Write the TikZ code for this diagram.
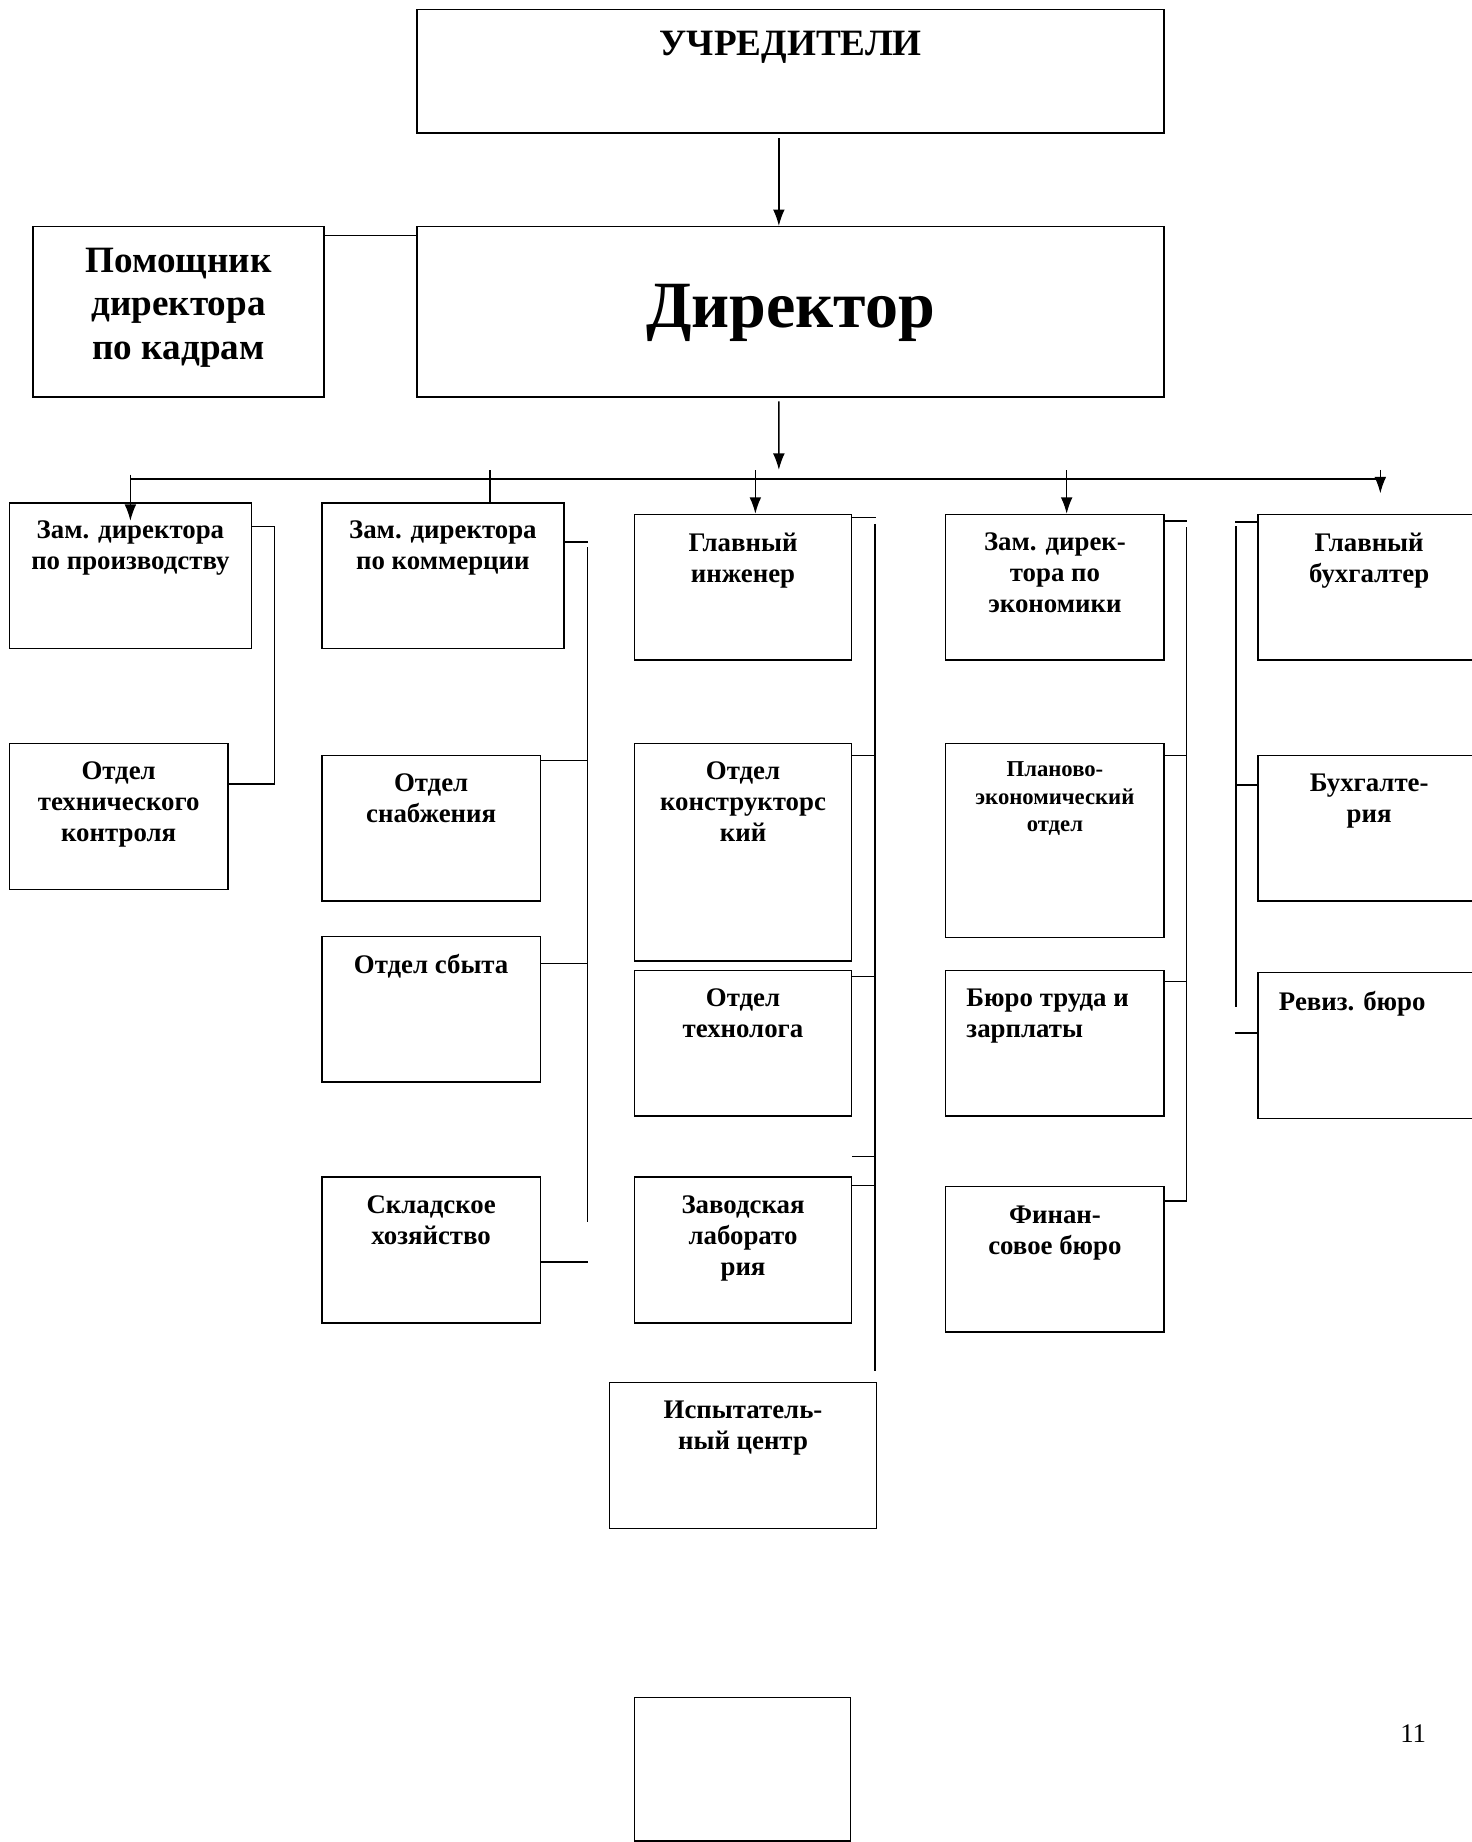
\documentclass[tikz,border=0pt]{standalone}
\usepackage{fontspec}
\setmainfont{Liberation Serif}
\usetikzlibrary{positioning,arrows.meta}

\tikzset{
	blk/.style={shape=rectangle,draw=black,line width=0.75pt,inner sep=0pt},
	txt/.style={inner sep=0pt,align=center,font=\fontsize{13}{15}\selectfont\bfseries},
	ln/.style={draw=black,line width=0.7pt},
	arr/.style={ln,-{Latex[length=2.8mm,width=2mm]}}
}

\begin{document}
\begin{tikzpicture}[x=0.2mm,y=-0.2mm]
	
	\useasboundingbox (0,0) rectangle (1253,1568);
	
	\node[blk,minimum width=127.2mm,minimum height=21mm] (uch) at (673,60.5) {};
	\node[blk,minimum width=127.2mm,minimum height=29mm] (dir) at (673,265.5) {};
	\node[blk,minimum width=49.6mm,minimum height=29mm] (pom) at (152,265.5) {};
	
	\node[blk,minimum width=41.2mm,minimum height=24.8mm] (zpr) at (111,490) {};
	\node[blk,minimum width=41.2mm,minimum height=24.8mm] (zkom) at (377,490) {};
	\node[blk,minimum width=37mm,minimum height=24.8mm] (gi) at (632.5,500) {};
	\node[blk,minimum width=37.2mm,minimum height=24.8mm] (zek) at (898,500) {};
	\node[blk,minimum width=37.8mm,minimum height=24.8mm] (gb) at (1165.5,500) {};
	
	\node[blk,minimum width=37.2mm,minimum height=24.8mm] (otk) at (101,695) {};
	\node[blk,minimum width=37.2mm,minimum height=24.8mm] (snab) at (367,705) {};
	\node[blk,minimum width=37.2mm,minimum height=24.8mm] (sbyt) at (367,859) {};
	\node[blk,minimum width=37.2mm,minimum height=24.8mm] (sklad) at (367,1064) {};
	\node[blk,minimum width=37mm,minimum height=37mm] (konstr) at (632.5,725.5) {};
	\node[blk,minimum width=37mm,minimum height=24.8mm] (tehn) at (632.5,888) {};
	\node[blk,minimum width=37mm,minimum height=24.8mm] (lab) at (632.5,1064) {};
	\node[blk,minimum width=45.4mm,minimum height=24.8mm] (isp) at (632.5,1239) {};
	\node[blk,minimum width=37.2mm,minimum height=33mm] (plan) at (898,715.5) {};
	\node[blk,minimum width=37.2mm,minimum height=24.8mm] (byuro) at (898,888) {};
	\node[blk,minimum width=37.2mm,minimum height=24.8mm] (fin) at (898,1072) {};
	\node[blk,minimum width=37.8mm,minimum height=24.8mm] (buh) at (1165.5,705) {};
	\node[blk,minimum width=37.8mm,minimum height=24.8mm] (rev) at (1165.5,890) {};
	\node[blk,minimum width=36.8mm,minimum height=24.4mm] (emp) at (632,1506) {};
	
	\node[txt,font=\fontsize{18}{21}\selectfont\bfseries,below=3.7mm of uch.north] (uchT) {УЧРЕДИТЕЛИ};
	\node[txt,font=\fontsize{32}{36}\selectfont\bfseries,below=9.9mm of dir.north] (dirT) {Директор};
	\node[txt,font=\fontsize{18}{21}\selectfont\bfseries,below=3.7mm of pom.north] (pomT) {Помощник\\директора\\по кадрам};
	\node[txt,below=3.2mm of zpr.north] (zprT) {Зам. директора\\по производству};
	\node[txt,below=3.2mm of zkom.north] (zkomT) {Зам. директора\\по коммерции};
	\node[txt,below=3.2mm of gi.north] (giT) {Главный\\инженер};
	\node[txt,below=3.2mm of zek.north] (zekT) {Зам. дирек-\\тора по\\экономики};
	\node[txt,below=3.2mm of gb.north] (gbT) {Главный\\бухгалтер};
	\node[txt,below=3.2mm of otk.north] (otkT) {Отдел\\технического\\контроля};
	\node[txt,below=3.2mm of snab.north] (snabT) {Отдел\\снабжения};
	\node[txt,below=3.2mm of sbyt.north] (sbytT) {Отдел сбыта};
	\node[txt,below=3.2mm of sklad.north] (skladT) {Складское\\хозяйство};
	\node[txt,below=3.2mm of konstr.north] (konstrT) {Отдел\\конструкторс\\кий};
	\node[txt,below=3.2mm of tehn.north] (tehnT) {Отдел\\технолога};
	\node[txt,below=3.2mm of lab.north] (labT) {Заводская\\лаборато\\рия};
	\node[txt,below=3.2mm of isp.north] (ispT) {Испытатель-\\ный центр};
	\node[txt,font=\fontsize{11}{13.3}\selectfont\bfseries,below=3.2mm of plan.north] (planT) {Планово-\\экономический\\отдел};
	\node[txt,align=left,below right=3.2mm and 3.6mm of byuro.north west] (byuroT) {Бюро труда и\\зарплаты};
	\node[txt,below=3.4mm of fin.north] (finT) {Финан-\\совое бюро};
	\node[txt,below=3.2mm of buh.north] (buhT) {Бухгалте-\\рия};
	\node[txt,align=left,below right=3.2mm and 3.6mm of rev.north west] (revT) {Ревиз. бюро};
	\node[font=\fontsize{13}{15}\selectfont] (pg) at (1203,1476) {11};
	
	\coordinate (busL) at (111,408);
	\coordinate (bus) at (663,408);
	\coordinate (busR) at (1175,408);
	\coordinate (kTop) at (500,466);
	\coordinate (kBot) at (500,1040);
	\coordinate (gTop) at (745,446);
	\coordinate (gBot) at (745,1167);
	\coordinate (eTop) at (1010,449);
	\coordinate (bTop) at (1052,448);
	\coordinate (bBot) at (1052,857);
	
	\draw[arr] ([xshift=-2mm,yshift=-0.8mm]uch.south) -- ([xshift=-2mm]dir.north);
	\draw[ln] ([yshift=-1.6mm]pom.north east) -- ([yshift=-1.6mm]dir.north west);
	\draw[arr] ([xshift=-2mm,yshift=-0.6mm]dir.south) -- ([yshift=1.6mm]bus);
	
	\draw[ln,line width=1.1pt] (busL) -- (busR);
	\draw[arr] ([yshift=0.8mm]busL) -- ([yshift=-3.2mm]zpr.north);
	\draw[ln] ([xshift=8mm]zkom.north) -- ([xshift=8mm,yshift=5.4mm]zkom.north);
	\draw[arr] ([xshift=2.1mm,yshift=7.4mm]gi.north) -- ([xshift=2.1mm]gi.north);
	\draw[arr] ([xshift=2mm,yshift=7.4mm]zek.north) -- ([xshift=2mm]zek.north);
	\draw[arr] ([yshift=1.6mm]busR) -- ([yshift=-2.4mm]busR);
	
	\draw[ln] ([yshift=-4.2mm]zpr.north east) -- ++(19,0) |- ([yshift=-7mm]otk.north east);
	
	\draw[ln] ([yshift=-6.8mm]zkom.north east) -- ++(20,0);
	\draw[ln] (kTop) -- (kBot);
	\draw[ln] ([yshift=-1mm]snab.north east) -- ++(40,0);
	\draw[ln] ([yshift=-4.8mm]sbyt.north east) -- ++(40,0);
	\draw[ln] ([yshift=-14.6mm]sklad.north east) -- ++(40,0);
	
	\draw[ln] ([yshift=-0.6mm]gi.north east) -- ++(20,0);
	\draw[ln] (gTop) -- (gBot);
	\draw[ln] ([yshift=-2.2mm]konstr.north east) -- ++(20,0);
	\draw[ln] ([yshift=-1.2mm]tehn.north east) -- ++(20,0);
	\draw[ln] ([yshift=3.4mm]lab.north east) -- ++(20,0);
	\draw[ln] ([yshift=-1.6mm]lab.north east) -- ++(20,0);
	
	\draw[ln] ([yshift=-1.2mm]zek.north east) -- ++(19,0);
	\draw[ln] (eTop) |- ([yshift=-2.6mm]fin.north east);
	\draw[ln] ([yshift=-2.2mm]plan.north east) -- ++(19,0);
	\draw[ln] ([yshift=-2mm]byuro.north east) -- ++(19,0);
	
	\draw[ln] ([yshift=-1.4mm]gb.north west) -- ++(-19,0);
	\draw[ln] (bTop) -- (bBot);
	\draw[ln] ([yshift=-5.2mm]buh.north west) -- ++(-19,0);
	\draw[ln] ([yshift=-10.4mm]rev.north west) -- ++(-19,0);
	
\end{tikzpicture}
\end{document}
